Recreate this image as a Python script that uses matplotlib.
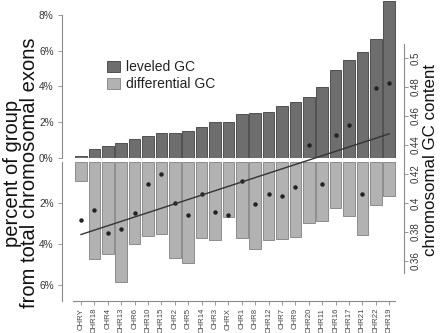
import numpy as np
import matplotlib
matplotlib.use("Agg")
import matplotlib.pyplot as plt

plt.rcParams["font.family"] = ["Liberation Sans", "DejaVu Sans"]

# Datos
cromosomas = ["CHRY", "CHR18", "CHR4", "CHR13", "CHR6", "CHR10", "CHR15", "CHR2",
              "CHR5", "CHR14", "CHR3", "CHRX", "CHR1", "CHR8", "CHR12", "CHR7",
              "CHR9", "CHR20", "CHR11", "CHR16", "CHR17", "CHR21", "CHR22", "CHR19"]
leveled_gc = [0.13, 0.49, 0.69, 0.85, 1.06, 1.21, 1.40, 1.41, 1.51, 1.75, 2.01, 2.03,
              2.44, 2.50, 2.59, 2.89, 3.11, 3.39, 3.98, 4.90, 5.49, 5.94, 6.65, 8.75]
differential_gc = [0.92, 4.71, 4.48, 5.84, 3.98, 3.61, 3.51, 4.68, 4.94, 3.71, 3.80, 2.69,
                   3.71, 4.26, 3.80, 3.74, 3.66, 3.00, 2.86, 2.25, 2.65, 3.56, 2.09, 1.68]
gc_content = [0.388, 0.395, 0.379, 0.382, 0.393, 0.413, 0.420, 0.400, 0.392, 0.406,
              0.394, 0.392, 0.415, 0.399, 0.406, 0.405, 0.411, 0.440, 0.413, 0.447,
              0.454, 0.406, 0.479, 0.483]

W, H = 440, 333
x = np.arange(len(cromosomas))
xlim = (-1.42, 24.1)
left, right = 62 / W, 404 / W
ancho = right - left

oscuro = "#6e6e6e"
claro = "#b2b2b2"
gris_eje = "#8a8a8a"
texto = "#333333"

fig = plt.figure(figsize=(W / 100, H / 100), dpi=100)

# Panel superior: leveled GC
ax1 = fig.add_axes([left, 1 - 158 / H, ancho, 158 / H])
b1 = ax1.bar(x, leveled_gc, width=0.86, color=oscuro, edgecolor="#505050",
             linewidth=0.7, label="leveled GC")
ax1.set_xlim(*xlim)
ax1.set_ylim(0, 158 / 17.9)
ax1.set_yticks([0, 2, 4, 6, 8])
ax1.set_yticklabels(["0%", "2%", "4%", "6%", "8%"])
ax1.spines["left"].set_bounds(0, 8)

# Panel inferior: differential GC (invertido)
ax2 = fig.add_axes([left, 1 - 301 / H, ancho, 139 / H])
b2 = ax2.bar(x, differential_gc, width=0.86, color=claro, edgecolor="#8c8c8c",
             linewidth=0.7, label="differential GC")
ax2.set_xlim(*xlim)
ax2.set_ylim(139 / 20.5, 0)
ax2.set_yticks([2, 4, 6])
ax2.set_yticklabels(["2%", "4%", "6%"])
ax2.spines["left"].set_bounds(0, 139 / 20.5)
ax2.spines["bottom"].set_bounds(-0.6, 23.4)
ax2.set_xticks(x)
ax2.set_xticklabels(cromosomas, rotation=90, fontsize=5.6, color="#444444")

for ax in (ax1, ax2):
    ax.patch.set_alpha(0)
    for s in ("top", "right"):
        ax.spines[s].set_visible(False)
    for s in ("left", "bottom"):
        ax.spines[s].set_color(gris_eje)
        ax.spines[s].set_linewidth(0.8)
    ax.tick_params(axis="y", labelsize=7.3, length=3, width=0.6, color=gris_eje,
                   labelcolor=texto, pad=3)
    ax.tick_params(axis="x", length=3, width=0.6, color=gris_eje, pad=2)
ax1.spines["bottom"].set_visible(False)
ax1.tick_params(axis="x", bottom=False, labelbottom=False)

# Eje derecho: contenido GC
ax3 = fig.add_axes([left, 0, ancho, 1])
ax3.patch.set_alpha(0)
ax3.set_xlim(*xlim)
ax3.set_ylim(0.5 - 275 / 1450, 0.5 + 58 / 1450)
ax3.plot(x, gc_content, "o", color="#222222", markersize=2.2)
pend, inter = np.polyfit(x, gc_content, 1)
ax3.plot([x[0], x[-1]], [inter, inter + pend * x[-1]], color="#333333", linewidth=1)
for s in ("top", "left", "bottom"):
    ax3.spines[s].set_visible(False)
ax3.spines["right"].set_color(gris_eje)
ax3.spines["right"].set_linewidth(0.8)
ax3.spines["right"].set_bounds(0.352, 0.510)
ax3.set_xticks([])
ax3.yaxis.tick_right()
ax3.set_yticks([0.36, 0.38, 0.40, 0.42, 0.44, 0.46, 0.48, 0.50])
ax3.set_yticklabels(["0.36", "0.38", "0.4", "0.42", "0.44", "0.46", "0.48", "0.5"],
                    rotation=90, va="center")
ax3.tick_params(axis="y", labelsize=7.0, length=3, width=0.6, color=gris_eje,
                labelcolor=texto, pad=2)

# Textos de ejes
fig.text(21 / W, 1 - 173 / H, "percent of group\nfrom total chromosomal exons",
         rotation=90, ha="center", va="center", fontsize=14.5, color="#111111",
         linespacing=0.9)
fig.text(430 / W, 1 - 160 / H, "chromosomal GC content", rotation=90,
         ha="center", va="center", fontsize=12.2, color="#111111")

# Leyenda
fig.legend(handles=[b1, b2], loc="upper left", bbox_to_anchor=(100 / W, 1 - 53 / H),
           frameon=False, fontsize=10, handlelength=0.95, handleheight=0.85,
           handletextpad=0.4, labelspacing=0.25, borderpad=0, labelcolor="#222222")

fig.savefig("out.png", dpi=100)
